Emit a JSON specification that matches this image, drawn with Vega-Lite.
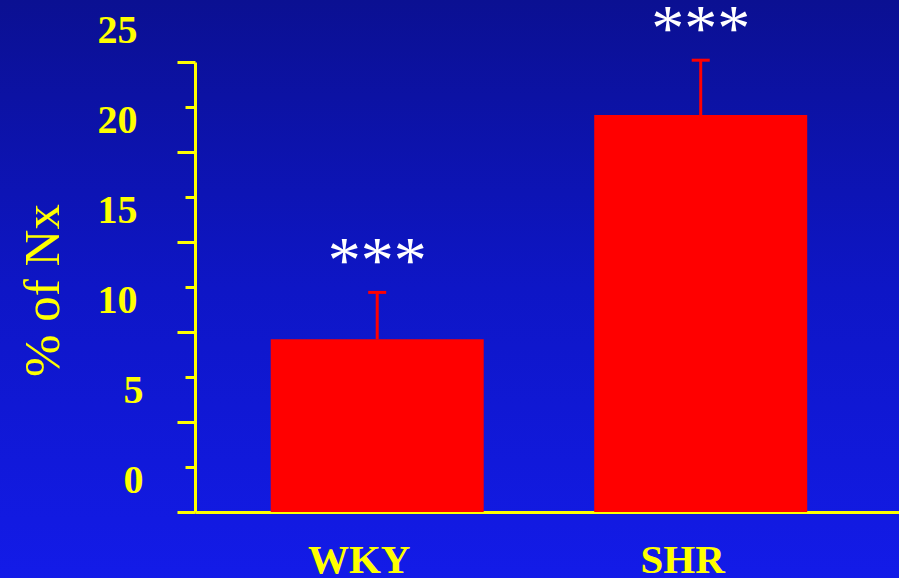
{
  "$schema": "https://vega.github.io/schema/vega-lite/v6.json",
  "width": 899,
  "height": 578,
  "autosize": {"type": "none"},
  "padding": 0,
  "background": "#0f17c8",
  "view": {
    "stroke": null,
    "fill": {
      "gradient": "linear",
      "x1": 0, "y1": 0, "x2": 0, "y2": 1,
      "stops": [
        {"offset": 0, "color": "#0b1092"},
        {"offset": 0.5, "color": "#0e16c6"},
        {"offset": 1, "color": "#131be8"}
      ]
    }
  },
  "config": {"font": "Liberation Serif"},
  "data": {
    "values": [
      {"group": "WKY", "mean": 9.6, "upper": 12.2, "sig": "***"},
      {"group": "SHR", "mean": 22.05, "upper": 25.1, "sig": "***"}
    ]
  },
  "encoding": {
    "x": {
      "field": "group",
      "type": "nominal",
      "sort": ["WKY", "SHR"],
      "scale": {"range": [195, 899], "paddingInner": 0.3416, "paddingOuter": 0.2589, "align": 0.452},
      "axis": {
        "orient": "bottom",
        "offset": -66,
        "title": null,
        "domainColor": "#ffff00",
        "domainWidth": 3,
        "domainOpacity": 1,
        "ticks": false,
        "tickSize": 0,
        "grid": false,
        "labelAngle": 0,
        "labelColor": "#ffff00",
        "labelFont": "Liberation Serif",
        "labelFontWeight": "bold",
        "labelFontSize": 41,
        "labelOffset": -18,
        "labelPadding": 28,
        "labelBaseline": "top"
      }
    }
  },
  "layer": [
    {
      "mark": {"type": "bar", "color": "#ff0000", "opacity": 1},
      "encoding": {
        "y": {
          "field": "mean",
          "type": "quantitative",
          "title": "% of Nx",
          "scale": {"domain": [0, 25], "range": [512, 62], "nice": false},
          "axis": {
            "orient": "left",
            "offset": -195,
            "values": [0, 2.5, 5, 7.5, 10, 12.5, 15, 17.5, 20, 22.5, 25],
            "grid": false,
            "domainColor": "#ffff00",
            "domainWidth": 3,
            "domainOpacity": 1,
            "tickColor": "#ffff00",
            "tickWidth": 3,
            "tickOpacity": 1,
            "tickSize": {"condition": {"test": "datum.value % 5 === 0", "value": 18}, "value": 10},
            "labelExpr": "datum.value % 5 === 0 ? datum.label : ''",
            "labelColor": "#ffff00",
            "labelFont": "Liberation Serif",
            "labelFontWeight": "bold",
            "labelFontSize": 40,
            "labelOffset": -32,
            "labelPadding": {"condition": {"test": "datum.value < 10", "value": 34}, "value": 40},
            "labelAlign": "right",
            "labelBaseline": "middle",
            "labelOverlap": false,
            "title": "% of Nx",
            "titleFont": "Liberation Serif",
            "titleFontWeight": "normal",
            "titleFontSize": 51,
            "titleColor": "#ffff00",
            "titleAngle": 270,
            "titleAlign": "center",
            "titleBaseline": "alphabetic",
            "titleX": -137,
            "titleY": 290
          }
        }
      }
    },
    {
      "mark": {"type": "rule", "color": "#ff0000", "strokeWidth": 3, "opacity": 1},
      "encoding": {
        "y": {"field": "mean", "type": "quantitative", "title": "% of Nx"},
        "y2": {"field": "upper"}
      }
    },
    {
      "mark": {"type": "tick", "color": "#ff0000", "size": 18, "thickness": 3, "opacity": 1, "orient": "horizontal"},
      "encoding": {
        "y": {"field": "upper", "type": "quantitative", "title": "% of Nx"}
      }
    },
    {
      "mark": {"type": "text", "color": "#ffffff", "font": "Liberation Serif", "fontSize": 66, "baseline": "middle", "dy": -30},
      "encoding": {
        "y": {"field": "upper", "type": "quantitative", "title": "% of Nx"},
        "text": {"field": "sig"}
      }
    }
  ]
}
